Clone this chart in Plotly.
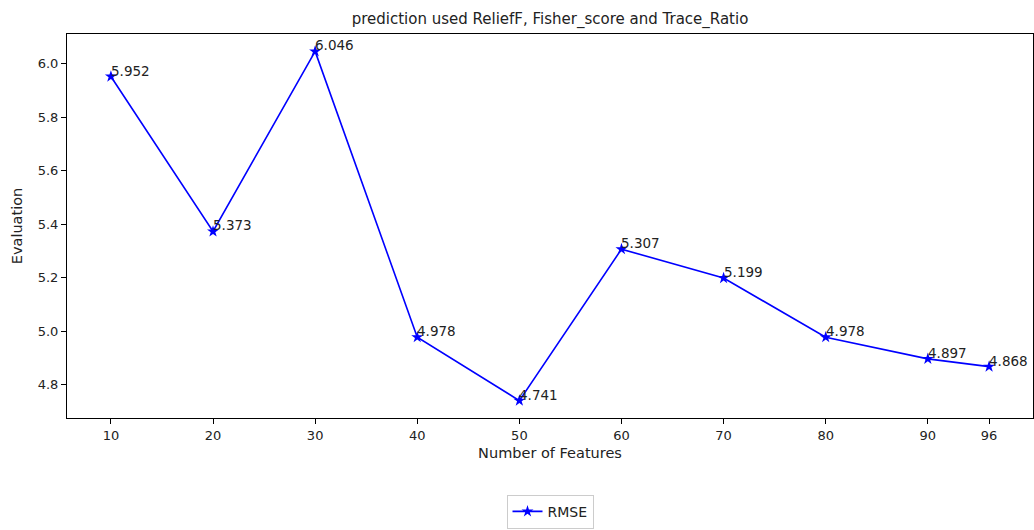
import plotly.graph_objects as go

features = [10, 20, 30, 40, 50, 60, 70, 80, 90, 96]
rmse = [5.952, 5.373, 6.046, 4.978, 4.741, 5.307, 5.199, 4.978, 4.897, 4.868]
y_ticks = [4.8, 5.0, 5.2, 5.4, 5.6, 5.8, 6.0]

FONT = "DejaVu Sans"
fig = go.Figure()
fig.add_trace(go.Scatter(
    x=features, y=rmse, mode="lines+markers", name="RMSE",
    line=dict(color="#0000ff", width=1.6),
    marker=dict(symbol="star", size=9, color="#0000ff"),
))
for xv, yv in zip(features, rmse):
    fig.add_annotation(x=xv, y=yv, text=f"{yv:.3f}", showarrow=False,
                       xanchor="left", yanchor="bottom", xshift=-2, yshift=-4,
                       font=dict(family=FONT, size=13.5, color="#222"))

axis_common = dict(showgrid=False, zeroline=False, showline=True, linecolor="black",
                   linewidth=1, mirror=True, ticks="outside", ticklen=5, automargin=False,
                   tickcolor="black", tickfont=dict(family=FONT, size=13, color="#222"))
fig.update_xaxes(range=[5.7, 100.3], tickvals=features, ticktext=[str(f) for f in features],
                 title=dict(text="Number of Features", font=dict(family=FONT, size=14.5, color="#222"), standoff=6),
                 **axis_common)
fig.update_yaxes(range=[4.676, 6.111], tickvals=y_ticks, ticktext=[f"{v:.1f}" for v in y_ticks],
                 title=dict(text="Evaluation", font=dict(family=FONT, size=14.5, color="#222"), standoff=11),
                 **axis_common)
fig.update_layout(
    width=1034, height=530, autosize=False,
    margin=dict(l=67, r=1, t=34, b=103),
    plot_bgcolor="white", paper_bgcolor="white",
    title=dict(text="prediction used ReliefF, Fisher_score and Trace_Ratio",
               x=0.5, xref="paper", xanchor="center", y=1 - 19/530, yanchor="middle",
               font=dict(family=FONT, size=15, color="#222"), automargin=False),
    showlegend=True,
    legend=dict(orientation="h", x=0.5, xanchor="center", y=-0.2, yanchor="top",
                bordercolor="#cccccc", borderwidth=1, bgcolor="white",
                font=dict(family=FONT, size=14, color="#222")),
)
fig.write_html("out.html", config={"displayModeBar": False},
               post_script="document.body.style.margin='0';document.body.style.overflow='hidden';")
